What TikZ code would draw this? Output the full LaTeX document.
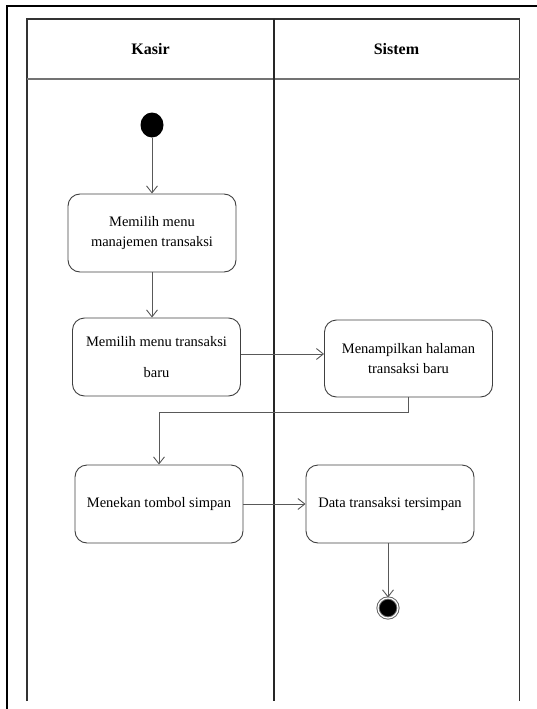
\documentclass[tikz,border=0pt]{standalone}
\usepackage{fontspec}
\setmainfont{Liberation Serif}
\usetikzlibrary{arrows.meta,shapes.geometric}
\begin{document}
\begin{tikzpicture}[x=1pt,y=-1pt,
  lane/.style={draw=black!80, line width=1.6pt},
  act/.style={draw=black!75, line width=0.9pt, rounded corners=12pt,
    minimum width=168pt, minimum height=78pt, align=center, inner sep=0pt,
    font=\fontsize{14.5}{20}\selectfont},
  flow/.style={draw=black!65, line width=0.9pt, -{Straight Barb[length=7pt,width=11pt]}},
  head/.style={font=\fontsize{16}{18}\selectfont\bfseries}]
\useasboundingbox (0,0) rectangle (537,709);
% outer frame (left and top edges)
\draw[line width=2.2pt] (7,712) -- (7,6) -- (542,6);
% swimlanes
\draw[lane] (27,701) -- (27,19) -- (519.5,19) -- (519.5,701);
\draw[draw=black!55, line width=1.4pt] (27,79) -- (519.5,79);
\draw[lane, draw=black!85] (274,19) -- (274,701);
\node[head] (hk) at (150.5,49) {Kasir};
\node[head] (hs) at (396.5,49) {Sistem};
% start and end
\node[ellipse, fill=black, minimum width=23pt, minimum height=25pt, inner sep=0pt] (start) at (152,125) {};
\node[circle, draw=black!60, line width=1pt, fill=black, minimum size=20pt, inner sep=0pt,
  double=white, double distance=1.2pt] (end) at (388,608) {};
% activities
\node[act] (a1) at (152,233) {Memilih menu\\manajemen transaksi};
\node[act] (a2) at (156.5,357) {Memilih menu transaksi\\[11pt]baru};
\node[act, minimum height=77pt] (a3) at (408.5,358.5) {Menampilkan halaman\\transaksi baru};
\node[act] (a4) at (159,504) {Menekan tombol simpan};
\node[act] (a5) at (390,504) {Data transaksi tersimpan};
% flows
\draw[flow] (start) -- (a1);
\draw[flow] (a1.south) -- (a1.south |- a2.north);
\draw[flow] (a2.east |- 0,354) -- (a3.west |- 0,354);
\coordinate (bend) at (408,412);
\draw[flow] (a3.south -| bend) -- (bend) -- (159,412) -- (a4.north);
\draw[flow] (a4) -- (a5);
\draw[flow] (a5.south -| end) -- (end.north);
\end{tikzpicture}
\end{document}
